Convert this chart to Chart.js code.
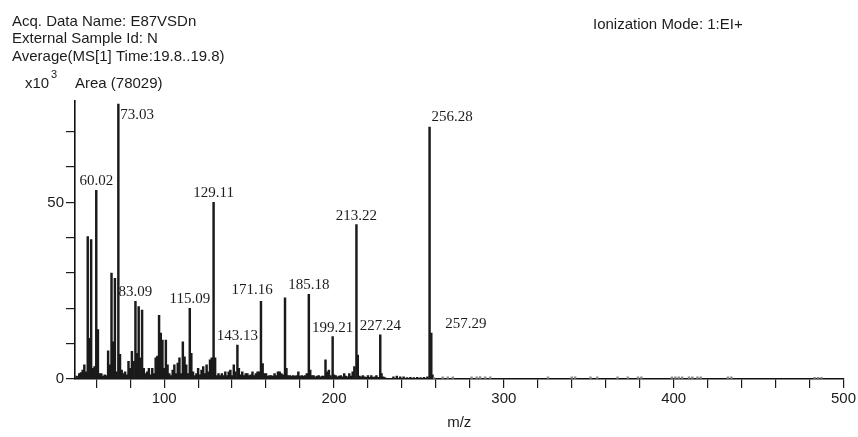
<!DOCTYPE html>
<html>
<head>
<meta charset="utf-8">
<script src="https://cdn.jsdelivr.net/npm/chart.js@4"></script>
<style>
  html, body { margin: 0; padding: 0; background: #fff; }
  #wrap { width: 858px; height: 437px; }
</style>
</head>
<body>
<div id="wrap"><canvas id="msChart" width="858" height="437"></canvas></div>
<script>
// m/z of each stick and its intensity (x10^3 counts)
const mz = [
  48.5, 50, 51, 52, 53, 54, 55, 56, 57, 58, 59, 60.02, 61, 62, 63, 64, 65, 66, 67, 68,
  69, 70, 71, 72, 73.03, 74, 75, 76, 77, 78, 79, 80, 81, 82, 83.09, 84, 85, 86, 87, 88,
  89, 90, 91, 92, 93, 94, 95, 96, 97, 98, 99, 100, 101, 102, 103, 104, 105, 106, 107, 108,
  109, 110, 111, 112, 113, 114, 115.09, 116, 117, 118, 119, 120, 121, 122, 123, 124, 125, 126, 127, 128,
  129.11, 130, 131, 132, 133, 134, 135, 136, 137, 138, 139, 140, 141, 142, 143.13, 144, 145, 146, 147, 148,
  149, 150, 151, 152, 153, 154, 155, 156, 157, 158, 159, 160, 161, 162, 163, 164, 165, 166, 167, 168,
  169, 170, 171.16, 172, 173, 174, 175, 176, 177, 178, 179, 180, 181, 182, 183, 184, 185.18, 186, 187, 188,
  189, 190, 191, 192, 193, 194, 195, 196, 197, 198, 199.21, 200, 201, 202, 203, 204, 205, 206, 207, 208,
  209, 210, 211, 212, 213.22, 214, 215, 216, 217, 218, 219, 220, 221, 222, 223, 224, 225, 226, 227.24, 228,
  229, 230, 235, 237, 239, 241, 243, 245, 247, 249, 251, 253, 255, 256.28, 257.29, 258, 259, 264, 267, 270,
  281, 284, 286, 289, 292, 326, 340, 342, 351, 355, 367, 373, 379, 381, 399, 401, 403, 405, 409, 411,
  414, 416, 432, 434, 483, 485, 487
];
const intensity = [
  0.8, 1.5, 1.8, 2.5, 4, 2, 40.3, 11.5, 39.5, 3, 3.5, 53.4, 14, 1.5, 1.5, 0.8, 1.2, 1, 8, 4,
  30, 10.5, 28.5, 2, 77.8, 7, 2.5, 1.5, 2, 1.2, 5, 3, 7.8, 5, 22, 7.3, 20.5, 6, 19.5, 3,
  1.5, 2, 3, 1.2, 3, 1.5, 6, 6.5, 18, 13, 11, 3, 11, 4, 1.5, 1, 2.5, 4, 1.5, 4.5,
  6, 1.5, 10.5, 6.3, 4, 1.5, 20, 7.3, 2, 1, 1.5, 3, 1.2, 2.5, 3.5, 1.5, 4, 2, 5.4, 6,
  50, 6, 1, 1.5, 1, 1.5, 1, 2, 1, 2, 2.5, 1, 4, 2, 9.6, 3, 1.2, 2, 1, 1.5,
  1.5, 1, 1.2, 2, 1, 1.5, 2, 2, 22, 4.4, 1.5, 1.5, 0.8, 1, 1, 0.8, 1.5, 1, 2, 2,
  1.5, 1.2, 23, 3, 1, 1, 0.8, 1, 0.8, 1, 2, 0.8, 1, 0.8, 1, 1.5, 24, 2.5, 1, 1,
  0.6, 0.8, 1, 0.6, 0.8, 0.8, 5.4, 2, 2.5, 1, 12, 1.2, 1, 0.6, 0.8, 1, 0.6, 1.5, 0.8, 0.6,
  1.5, 0.8, 2, 3.5, 43.7, 6.8, 0.8, 0.6, 1, 0.6, 0.5, 1, 0.5, 1, 0.5, 0.6, 1, 0.5, 12.5, 1.5,
  0.6, 0.4, 0.6, 0.8, 0.6, 0.6, 0.4, 0.5, 0.4, 0.5, 0.4, 0.5, 0.6, 71.3, 13, 1.2, 0.4, 0.6, 0.6, 0.6,
  0.6, 0.6, 0.7, 0.6, 0.6, 0.6, 0.6, 0.6, 0.6, 0.6, 0.6, 0.6, 0.6, 0.6, 0.6, 0.6, 0.6, 0.6, 0.6, 0.6,
  0.6, 0.6, 0.6, 0.6, 0.5, 0.5, 0.5
];
// labelled peaks
const labelMz = [60.02, 73.03, 83.09, 115.09, 129.11, 143.13, 171.16, 185.18, 199.21, 213.22, 227.24, 256.28, 257.29];
const xTicks = [60, 80, 100, 120, 140, 160, 180, 200, 220, 240, 260, 280, 300, 320, 340, 360, 380, 400, 420, 440, 460, 480, 500];
const yTicks = [0, 10, 20, 30, 40, 50, 60, 70];
const xLabelled = [100, 200, 300, 400, 500];
const yLabelled = [0, 50];

const SANS = '"Liberation Sans", Arial, sans-serif';
const SERIF = '"Liberation Serif", "Times New Roman", serif';
const INK = "#1c1c1c";

// where the peak label sits relative to the top of the stick
const labelPlace = {
  "73.03": { align: "left", dx: 2, dy: 15 },
  "256.28": { align: "left", dx: 2, dy: -6 },
  "257.29": { align: "left", dx: 14, dy: -5 },
  "171.16": { align: "center", dx: -33, dy: -4 },
};

const headerPlugin = {
  id: "header",
  afterDraw(chart) {
    const ctx = chart.ctx;
    ctx.save();
    ctx.fillStyle = INK;
    ctx.textBaseline = "alphabetic";
    ctx.textAlign = "left";
    ctx.font = "15px " + SANS;
    ctx.fillText("Acq. Data Name: E87VSDn", 12, 26);
    ctx.fillText("External Sample Id: N", 12, 43);
    ctx.fillText("Average(MS[1] Time:19.8..19.8)", 12, 61);
    ctx.fillText("Ionization Mode: 1:EI+", 593, 29);
    ctx.fillText("x10", 25, 88);
    ctx.fillText("Area (78029)", 75, 88);
    ctx.font = "11px " + SANS;
    ctx.fillText("3", 51, 78);
    ctx.restore();
  },
};

const peakLabelPlugin = {
  id: "peakLabels",
  afterDatasetsDraw(chart) {
    const ctx = chart.ctx;
    const xs = chart.scales.x, ys = chart.scales.y;
    ctx.save();
    ctx.fillStyle = INK;
    ctx.font = "15px " + SERIF;
    ctx.textBaseline = "alphabetic";
    labelMz.forEach((m) => {
      const i = mz.indexOf(m);
      const txt = m.toFixed(2);
      const p = labelPlace[txt] || { align: "center", dx: 0, dy: -5 };
      ctx.textAlign = p.align;
      ctx.fillText(txt, xs.getPixelForValue(m) + p.dx, ys.getPixelForValue(intensity[i]) + p.dy);
    });
    ctx.restore();
  },
};

const ctx = document.getElementById("msChart").getContext("2d");
new Chart(ctx, {
  type: "bar",
  data: {
    datasets: [
      {
        data: mz.map((m, i) => ({ x: m, y: intensity[i] })),
        backgroundColor: (c) => (c.raw && c.raw.y < 0.75 && c.raw.x > 258 ? "#8a8a8a" : "#1a1a1a"),
        borderWidth: 0,
        barThickness: 1.8,
      },
    ],
  },
  options: {
    responsive: false,
    devicePixelRatio: 1,
    animation: false,
    layout: { padding: { top: 101, right: 13, left: 0, bottom: 0 } },
    plugins: { legend: { display: false }, tooltip: { enabled: false } },
    scales: {
      x: {
        type: "linear",
        offset: false,
        min: 47.5,
        max: 500,
        afterBuildTicks: (s) => {
          s.ticks = xTicks.map((v) => ({ value: v }));
        },
        afterFit: (s) => {
          s.height = 58;
        },
        ticks: {
          autoSkip: false,
          maxRotation: 0,
          padding: 2,
          color: INK,
          font: { family: SANS, size: 15 },
          callback: (v) => (xLabelled.includes(v) ? String(v) : ""),
        },
        grid: { offset: false, drawOnChartArea: false, drawTicks: true, tickLength: 9, color: INK, lineWidth: 1.2 },
        border: { display: true, color: "#111", width: 1.6 },
        title: {
          display: true,
          text: "m/z",
          color: INK,
          font: { family: SANS, size: 15 },
          padding: { top: 0, bottom: 5 },
        },
      },
      y: {
        min: 0,
        max: 78.7,
        afterBuildTicks: (s) => {
          s.ticks = yTicks.map((v) => ({ value: v }));
        },
        afterFit: (s) => {
          s.width = 75;
        },
        ticks: {
          padding: 2,
          color: INK,
          font: { family: SANS, size: 15 },
          callback: (v) => (yLabelled.includes(v) ? String(v) : ""),
        },
        grid: { drawOnChartArea: false, drawTicks: true, tickLength: 9, color: INK, lineWidth: 1.2 },
        border: { display: true, color: "#111", width: 1.6 },
      },
    },
  },
  plugins: [headerPlugin, peakLabelPlugin],
});
</script>
</body>
</html>
